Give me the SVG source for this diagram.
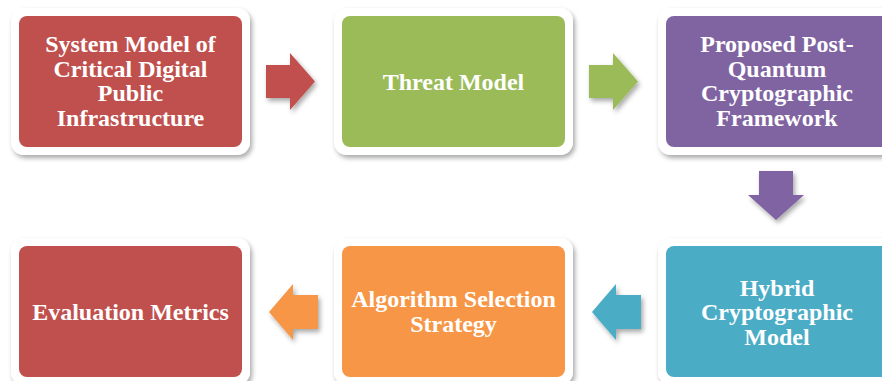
<svg xmlns="http://www.w3.org/2000/svg" width="882" height="381" viewBox="0 0 882 381">
<defs>
<filter id="sh" x="-10%" y="-10%" width="130%" height="130%">
<feGaussianBlur in="SourceAlpha" stdDeviation="2.5"/>
<feOffset dx="1.5" dy="2.5" result="b"/>
<feComponentTransfer><feFuncA type="linear" slope="0.35"/></feComponentTransfer>
<feMerge><feMergeNode/><feMergeNode in="SourceGraphic"/></feMerge>
</filter>
<style>
.frame{fill:#fff;filter:url(#sh)}
.t{font-family:"Liberation Serif","Times New Roman",serif;font-weight:bold;font-size:24px;fill:#fff;text-anchor:middle}
.arr{filter:url(#sh)}
</style>
</defs>
<rect width="882" height="381" fill="#fff"/>
<g id="node-system-model">
<rect class="frame" x="11" y="8" width="239" height="147" rx="13"/>
<rect x="19" y="16" width="223" height="131" rx="8" fill="#C0504D"/>
<text class="t" x="130.5" y="52">System Model of</text>
<text class="t" x="130.5" y="77">Critical Digital</text>
<text class="t" x="130.5" y="101">Public</text>
<text class="t" x="130.5" y="126">Infrastructure</text>
</g>
<g id="node-threat-model">
<rect class="frame" x="334" y="8" width="239" height="147" rx="13"/>
<rect x="342" y="16" width="223" height="131" rx="8" fill="#9BBB59"/>
<text class="t" x="453.5" y="89.5">Threat Model</text>
</g>
<g id="node-framework">
<rect class="frame" x="658" y="8" width="239" height="147" rx="13"/>
<rect x="666" y="16" width="223" height="131" rx="8" fill="#8064A2"/>
<text class="t" x="777" y="52">Proposed Post-</text>
<text class="t" x="777" y="77">Quantum</text>
<text class="t" x="777" y="101">Cryptographic</text>
<text class="t" x="777" y="126">Framework</text>
</g>
<g id="node-hybrid">
<rect class="frame" x="658" y="238" width="239" height="147" rx="13"/>
<rect x="666" y="246" width="223" height="131" rx="8" fill="#4BACC6"/>
<text class="t" x="777" y="296">Hybrid</text>
<text class="t" x="777" y="320">Cryptographic</text>
<text class="t" x="777" y="345">Model</text>
</g>
<g id="node-algorithm">
<rect class="frame" x="334" y="238" width="239" height="147" rx="13"/>
<rect x="342" y="246" width="223" height="131" rx="8" fill="#F79646"/>
<text class="t" x="453.5" y="307">Algorithm Selection</text>
<text class="t" x="453.5" y="332">Strategy</text>
</g>
<g id="node-evaluation">
<rect class="frame" x="11" y="238" width="239" height="147" rx="13"/>
<rect x="19" y="246" width="223" height="131" rx="8" fill="#C0504D"/>
<text class="t" x="130.5" y="319.5">Evaluation Metrics</text>
</g>
<g id="connectors">
<polygon class="arr" fill="#C0504D" points="266,65 290,65 290,53 315,81.5 290,110 290,98 266,98"/>
<polygon class="arr" fill="#9BBB59" points="589,65 613,65 613,53 638,81.5 613,110 613,98 589,98"/>
<polygon class="arr" fill="#8064A2" points="759,171 793,171 793,195 804,195 776,220 748,195 759,195"/>
<polygon class="arr" fill="#4BACC6" points="641,295 616,295 616,284 592,312 616,340 616,329 641,329"/>
<polygon class="arr" fill="#F79646" points="318,295 293,295 293,284 269,312 293,340 293,329 318,329"/>
</g>
</svg>
